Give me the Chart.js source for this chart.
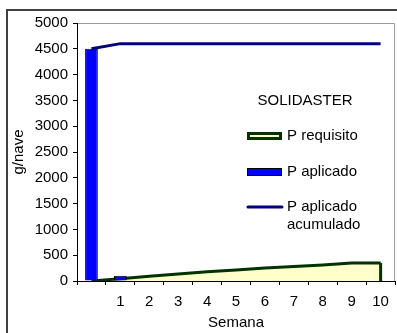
<!DOCTYPE html>
<html>
<head>
<meta charset="utf-8">
<script src="https://cdn.jsdelivr.net/npm/chart.js@4.4.1/dist/chart.umd.min.js"></script>
<style>
html,body{margin:0;padding:0;background:#fff;}
#wrap{width:397px;height:333px;}
</style>
</head>
<body>
<div id="wrap"><canvas id="chart" width="397" height="333"></canvas></div>
<script>

/* DATA */

let weeks = ["", "1", "2", "3", "4", "5", "6", "7", "8", "9", "10"];

let requisito = [0, 45, 90, 135, 180, 215, 250, 280, 310, 350, 350];

let aplicado = [4500, 100, null, null, null, null, null, null, null, null, null];

let acumulado = [4500, 4600, 4600, 4600, 4600, 4600, 4600, 4600, 4600, 4600, 4600];

let seriesNames = ["P requisito", "P aplicado", "P aplicado acumulado"];

let legendTitle = "SOLIDASTER";

let yMin = 0, yMax = 5000, yStep = 500;


/* STYLE */

const FONT = '"Liberation Sans", Arial, sans-serif';

Chart.defaults.font.family = FONT;
Chart.defaults.font.size = 15;
Chart.defaults.color = "#000";


/* FRAME + PLOT BORDER */

const frame = {
  id: "frame",
  beforeDraw(chart){
    let ctx = chart.ctx;
    let a = chart.chartArea;
    ctx.save();
    ctx.fillStyle = "#fff";
    ctx.fillRect(0, 0, chart.width, chart.height);
    ctx.strokeStyle = "#404040";
    ctx.lineWidth = 2;
    ctx.beginPath();
    ctx.moveTo(7, chart.height + 5);
    ctx.lineTo(7, 10);
    ctx.lineTo(chart.width + 5, 10);
    ctx.stroke();
    // grey plot border top + right
    ctx.strokeStyle = "#9a9a9a";
    ctx.lineWidth = 1;
    ctx.beginPath();
    ctx.moveTo(a.left, a.top + 0.5);
    ctx.lineTo(a.right - 0.5, a.top + 0.5);
    ctx.lineTo(a.right - 0.5, a.bottom);
    ctx.stroke();
    ctx.restore();
  },
  afterDatasetDraw(chart, args){
    // closing edge of the area on the last category
    if(args.index !== 0) return;
    let pts = args.meta.data;
    let last = pts[pts.length - 1];
    let base = chart.scales.y.getPixelForValue(0);
    let ctx = chart.ctx;
    ctx.save();
    ctx.strokeStyle = "#003300";
    ctx.lineWidth = 3;
    ctx.beginPath();
    ctx.moveTo(last.x, last.y);
    ctx.lineTo(last.x, base);
    ctx.stroke();
    ctx.restore();
  }
};


/* LEGEND */

const legendBox = {
  id: "legendBox",
  afterDraw(chart){
    let ctx = chart.ctx;
    let ds = chart.data.datasets;
    ctx.save();
    ctx.font = "15px " + FONT;
    ctx.fillStyle = "#000";
    ctx.textBaseline = "middle";
    ctx.textAlign = "center";
    ctx.fillText(legendTitle, 305, 101);

    ctx.textAlign = "left";

    // P requisito (area)
    ctx.fillStyle = ds[0].backgroundColor;
    ctx.fillRect(247, 132, 35, 8);
    ctx.strokeStyle = ds[0].borderColor;
    ctx.lineWidth = 3;
    ctx.strokeRect(248.5, 133.5, 32, 5);
    ctx.fillStyle = "#000";
    ctx.fillText(ds[0].label, 287, 136);

    // P aplicado (bar)
    ctx.fillStyle = ds[1].backgroundColor;
    ctx.fillRect(247, 168, 35, 8);
    ctx.strokeStyle = ds[1].borderColor;
    ctx.lineWidth = 1;
    ctx.strokeRect(247.5, 168.5, 34, 7);
    ctx.fillStyle = "#000";
    ctx.fillText(ds[1].label, 287, 172);

    // P aplicado acumulado (line)
    ctx.strokeStyle = ds[2].borderColor;
    ctx.lineWidth = 3;
    ctx.lineCap = "round";
    ctx.beginPath();
    ctx.moveTo(248, 207);
    ctx.lineTo(282, 207);
    ctx.stroke();
    let words = ds[2].label.split(" ");
    ctx.fillStyle = "#000";
    ctx.fillText(words.slice(0, 2).join(" "), 287, 207);
    ctx.fillText(words.slice(2).join(" "), 287, 225);

    ctx.restore();
  }
};


/* CHART */

let ctx = document.getElementById("chart").getContext("2d");

new Chart(ctx, {

  type: "bar",

  data: {
    labels: weeks,
    datasets: [
      {
        type: "line",
        label: seriesNames[0],
        data: requisito,
        fill: "origin",
        backgroundColor: "#ffffcc",
        borderColor: "#003300",
        borderWidth: 3,
        borderJoinStyle: "miter",
        pointRadius: 0,
        tension: 0,
        order: 3
      },
      {
        type: "bar",
        label: seriesNames[1],
        data: aplicado,
        backgroundColor: "#0000ff",
        borderColor: "#000000",
        borderWidth: 1,
        barPercentage: 0.44,
        categoryPercentage: 1,
        order: 2
      },
      {
        type: "line",
        label: seriesNames[2],
        data: acumulado,
        fill: false,
        borderColor: "#000080",
        borderWidth: 3,
        pointRadius: 0,
        tension: 0,
        order: 1
      }
    ]
  },

  options: {
    responsive: false,
    animation: false,
    devicePixelRatio: 1,
    layout: { padding: { top: 23, right: 1, left: 0, bottom: 0 } },
    plugins: {
      legend: { display: false },
      tooltip: { enabled: false }
    },
    scales: {
      x: {
        offset: true,
        grid: { offset: true, drawOnChartArea: false, tickLength: 4, color: "#000" },
        border: { color: "#000", width: 1 },
        ticks: { padding: 8, maxRotation: 0, autoSkip: false },
        title: { display: true, text: "Semana", padding: { top: 0, bottom: 1 } },
        afterFit(scale){ scale.height = 52; }
      },
      y: {
        min: yMin,
        max: yMax,
        grid: { drawOnChartArea: false, tickLength: 4, color: "#000" },
        border: { color: "#000", width: 1 },
        ticks: {
          stepSize: yStep,
          padding: 5,
          callback: function(v){ return String(v); }
        },
        title: { display: true, text: "g/nave", padding: { top: 10, bottom: 0 } },
        afterFit(scale){ scale.width = 77; }
      }
    }
  },

  plugins: [frame, legendBox]

});

</script>
</body>
</html>
